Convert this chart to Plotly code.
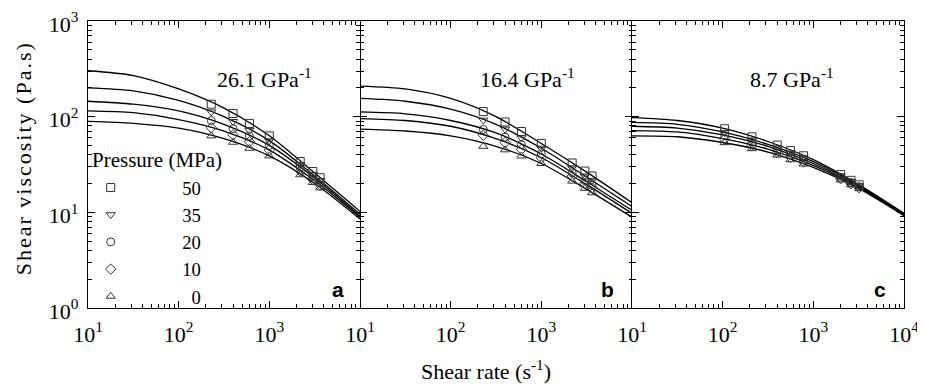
import plotly.graph_objects as go

# ---------------- data ----------------
pressures = ["50", "35", "20", "10", "0"]
legend_names = ["50", "35", "20", "10", "\u20070"]
legend_title = "Pressure (MPa)"
symbols = ["square-open", "triangle-down-open", "circle-open", "diamond-open", "triangle-up-open"]

panel_titles = ["26.1 GPa<sup>-1</sup>", "16.4 GPa<sup>-1</sup>", "8.7 GPa<sup>-1</sup>"]
panel_letters = ["a", "b", "c"]

# fitted curves, sampled at these shear rates
shear_curve = [10, 31.6, 100, 316, 1000, 3162, 10000]
curves_a = [
    [302, 269, 195, 123, 63.1, 25.7, 10.2],
    [200, 186, 148, 100, 56.2, 24.0, 9.55],
    [145, 135, 115, 83.2, 50.1, 22.9, 9.12],
    [115, 110, 93.3, 70.8, 44.7, 21.4, 8.91],
    [89.1, 85.1, 75.9, 58.9, 38.9, 20.0, 8.51],
]
curves_b = [
    [209, 195, 155, 100, 52.5, 26.3, 12.6],
    [155, 145, 120, 83.2, 46.8, 23.4, 11.5],
    [112, 107, 91.2, 67.6, 40.7, 20.9, 10.5],
    [95.5, 91.2, 79.4, 58.9, 37.2, 19.5, 9.77],
    [74.1, 70.8, 63.1, 49.0, 32.4, 17.4, 8.91],
]
curves_c = [
    [97.7, 91.2, 75.9, 55.0, 35.5, 19.5, 9.77],
    [87.1, 83.2, 69.2, 51.3, 33.9, 19.1, 9.55],
    [79.4, 75.9, 64.6, 49.0, 32.4, 18.6, 9.44],
    [71.6, 69.2, 58.9, 45.7, 30.9, 18.2, 9.33],
    [63.1, 61.7, 53.7, 42.7, 29.5, 17.8, 9.23],
]

# measured points
shear_data_ab = [229, 398, 603, 1000, 2190, 3020, 3630]
shear_data_c = [105, 210, 400, 560, 780, 2000, 2600, 3200]
data_a = [
    [135, 108, 85, 63, 34, 26.7, 23],
    [112, 89, 72, 56, 31.5, 24.8, 21.5],
    [91, 75, 62.7, 50, 29.5, 23.7, 20.5],
    [76.5, 64.6, 54.7, 44.7, 27, 22, 19.2],
    [63, 54, 46.7, 38.9, 24.7, 20.5, 18],
]
data_b = [
    [113, 88, 70, 52.5, 32.8, 27, 24],
    [92, 74, 60, 46.8, 29.2, 24, 21.5],
    [73.5, 61, 51, 40.7, 25.9, 21.5, 19.2],
    [64, 53.7, 45.5, 37.2, 24, 20, 18],
    [49, 45, 38.8, 32.4, 21.2, 17.8, 16],
]
data_c = [
    [74.8, 61.6, 50.4, 44.2, 39, 24.8, 21.6, 19.4],
    [68.4, 57.1, 47.2, 41.7, 37.2, 24, 21, 18.9],
    [63.8, 54, 45, 39.8, 35.5, 23.2, 20.5, 18.5],
    [58.3, 50, 42.3, 37.6, 33.7, 22.5, 19.9, 18.1],
    [53.5, 46.3, 39.6, 35.5, 32, 21.8, 19.4, 17.7],
]

x_tickvals = [10, 100, 1000, 10000]
x_ticktext_ab = ["10<sup>1</sup>", "10<sup>2</sup>", "10<sup>3</sup>", ""]
x_ticktext_c = ["10<sup>1</sup>", "10<sup>2</sup>", "10<sup>3</sup>", "10<sup>4</sup>"]
y_tickvals = [1, 10, 100, 1000]
y_ticktext = ["10<sup>0</sup>", "10<sup>1</sup>", "10<sup>2</sup>", "10<sup>3</sup>"]

# ---------------- figure ----------------
SERIF = "Liberation Serif, Times New Roman, serif"
SANS = "Liberation Sans, Arial, sans-serif"

fig = go.Figure()

panels = [
    ("x", "y", curves_a, shear_data_ab, data_a),
    ("x2", "y2", curves_b, shear_data_ab, data_b),
    ("x3", "y3", curves_c, shear_data_c, data_c),
]

for pi, (xa, ya, curves, sx, data) in enumerate(panels):
    for i, p in enumerate(pressures):
        fig.add_trace(go.Scatter(
            x=shear_curve, y=curves[i], mode="lines",
            line=dict(color="black", width=1.3, shape="spline", smoothing=0.8),
            xaxis=xa, yaxis=ya, showlegend=False, hoverinfo="skip",
        ))
    for i, p in enumerate(pressures):
        fig.add_trace(go.Scatter(
            x=sx, y=data[i], mode="markers", name=legend_names[i],
            marker=dict(symbol=symbols[i], size=8, color="#333333",
                        line=dict(width=1, color="#333333")),
            xaxis=xa, yaxis=ya, showlegend=(pi == 0),
        ))

minor_x = [m * 10 ** k for k in range(1, 4) for m in range(2, 10)]
minor_y = [m * 10 ** k for k in range(0, 3) for m in range(2, 10)]

axis_common = dict(
    type="log", linecolor="black", linewidth=1.2,
    mirror="ticks", ticks="inside", ticklen=7, tickwidth=1, tickcolor="black",
    showgrid=False, zeroline=False, ticklabeloverflow="allow",
    tickfont=dict(family=SERIF, size=22, color="black"),
)

layout_axes = {}
domains = [[0, 1 / 3], [1 / 3, 2 / 3], [2 / 3, 1]]
for k, name in enumerate(["xaxis", "xaxis2", "xaxis3"]):
    layout_axes[name] = dict(
        axis_common, showline=True, domain=domains[k], range=[1, 4],
        anchor=["y", "y2", "y3"][k],
        tickmode="array", tickvals=x_tickvals,
        ticktext=x_ticktext_c if k == 2 else x_ticktext_ab,
        ticklabelstandoff=6,
        minor=dict(ticks="inside", ticklen=3.5, tickwidth=1, tickcolor="black",
                   tickvals=minor_x, showgrid=False),
    )
for k, name in enumerate(["yaxis", "yaxis2", "yaxis3"]):
    layout_axes[name] = dict(
        axis_common, showline=(k != 1), range=[0, 3], anchor=["x", "x2", "x3"][k],
        tickmode="array", tickvals=y_tickvals, ticktext=y_ticktext,
        showticklabels=(k == 0), ticklabelstandoff=4, ticklabelshift=3,
        minor=dict(ticks="inside", ticklen=3.5, tickwidth=1, tickcolor="black",
                   tickvals=minor_y, showgrid=False),
    )
    if k > 0:
        layout_axes[name]["matches"] = "y"

annotations = []
title_x = [0.2157, 0.538, 0.863]
letter_x = [0.306, 0.637, 0.971]
for k in range(3):
    annotations.append(dict(
        text=panel_titles[k], xref="paper", yref="paper", x=title_x[k], y=0.80,
        xanchor="center", yanchor="middle", showarrow=False,
        font=dict(family=SERIF, size=22, color="black"),
    ))
    annotations.append(dict(
        text="<b>" + panel_letters[k] + "</b>", xref="paper", yref="paper",
        x=letter_x[k], y=0.063, xanchor="center", yanchor="middle", showarrow=False,
        font=dict(family=SANS, size=21, color="black"),
    ))
annotations.append(dict(
    text="Shear rate (s<sup>-1</sup>)", xref="paper", yref="paper",
    x=0.488, y=-0.216, xanchor="center", yanchor="middle", showarrow=False,
    font=dict(family=SERIF, size=22, color="black"),
))
annotations.append(dict(
    text='<span style="letter-spacing:2px">Shear viscosity (Pa.s)</span>',
    xref="paper", yref="paper", x=-0.078, y=0.523, textangle=-90,
    xanchor="center", yanchor="middle", showarrow=False,
    font=dict(family=SERIF, size=22, color="black"),
))
# legend heading
annotations.append(dict(
    text=legend_title, xref="paper", yref="paper", x=0.0025, y=0.516,
    xanchor="left", yanchor="middle", showarrow=False,
    font=dict(family=SERIF, size=21, color="black"),
))

# the page body adds an 8 px offset; size the figure so the plot area sits
# at the same page position as in the reference
fig.update_layout(
    width=917, height=378,
    margin=dict(l=80, r=21, t=13, b=78, autoexpand=False),
    paper_bgcolor="white", plot_bgcolor="white",
    showlegend=True,
    legend=dict(
        x=-0.0598, y=0.4845, xanchor="left", yanchor="top",
        bgcolor="rgba(0,0,0,0)", borderwidth=0,
        font=dict(family=SERIF, size=18.6, color="black"),
        tracegroupgap=0, itemwidth=133,
    ),
    annotations=annotations,
    **layout_axes,
)

fig.write_html("out.html")
